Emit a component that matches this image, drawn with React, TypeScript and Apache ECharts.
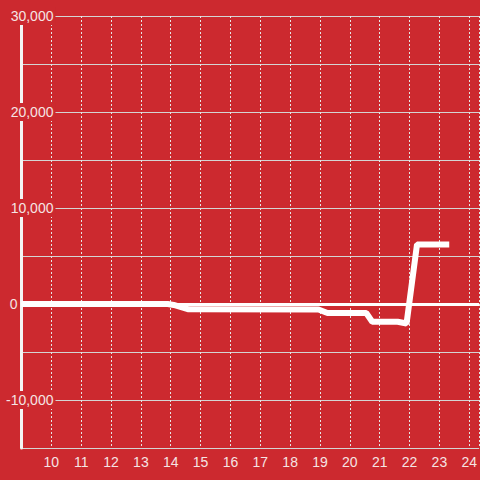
import React, { useEffect, useRef } from "react";
import * as echarts from "echarts";

const hours = [9, 13.9, 14.1, 14.6, 18.95, 19.25, 20.55, 20.75, 21.6, 21.9, 22.25, 23.33];
const values = [0, 0, -100, -550, -570, -940, -940, -1850, -1850, -2030, 6200, 6200];
const yTicks = [-15000, 30000, 5000];
const xRange = [9, 24.333, 1];

const BG = "#cc292f";
const LABEL = "#f5e4e4";
const FONT = "'Liberation Sans', Arial, sans-serif";

export default function App() {
  const ref = useRef<HTMLDivElement>(null);
  useEffect(() => {
    if (!ref.current) return;
    const chart = echarts.init(ref.current, undefined, { renderer: "svg" });
    chart.setOption({
      animation: false,
      backgroundColor: BG,
      grid: { left: 20, right: 0, top: 16, bottom: 32, containLabel: false },
      xAxis: {
        type: "value",
        min: xRange[0],
        max: xRange[1],
        interval: xRange[2],
        axisLine: { show: false },
        axisTick: { show: false },
        axisLabel: {
          showMinLabel: false,
          showMaxLabel: false,
          color: LABEL,
          fontSize: 14,
          fontFamily: FONT,
          margin: 7,
          formatter: (v: number) => String(v),
        },
        splitLine: {
          show: true,
          lineStyle: { color: "#e6e6e6", width: 1, type: [2, 2] },
        },
      },
      yAxis: {
        type: "value",
        min: yTicks[0],
        max: yTicks[1],
        interval: yTicks[2],
        axisLine: { show: true, lineStyle: { color: "#f4f4f4", width: 3 } },
        axisTick: { show: false },
        axisLabel: {
          inside: true,
          align: "right",
          margin: 34,
          color: LABEL,
          fontSize: 14,
          fontFamily: FONT,
          formatter: (v: number) => {
            if (v % 10000 !== 0) return "";
            if (v === 0) return "{z|0}";
            return "{a|" + echarts.format.addCommas(v) + "}";
          },
          rich: {
            a: {
              color: LABEL,
              fontSize: 14,
              fontFamily: FONT,
              backgroundColor: BG,
              padding: [2, 2, 2, 3],
            },
            z: {
              color: LABEL,
              fontSize: 14,
              fontFamily: FONT,
              padding: [0, 38, 0, 0],
            },
          },
        },
        splitLine: { show: true, lineStyle: { color: "#d4d4d4", width: 1 } },
      },
      series: [
        {
          type: "line",
          data: hours.map((h, i) => [h, values[i]]),
          showSymbol: false,
          symbol: "none",
          lineStyle: { color: "#ffffff", width: 6 },
          markLine: {
            silent: true,
            symbol: "none",
            label: { show: false },
            lineStyle: { color: "#ffffff", width: 3, type: "solid" },
            data: [{ yAxis: 0 }],
          },
        },
      ],
    });
    return () => chart.dispose();
  }, []);
  return (
    <div
      ref={ref}
      style={{ position: "fixed", left: 0, top: 0, width: 480, height: 480 }}
    />
  );
}
